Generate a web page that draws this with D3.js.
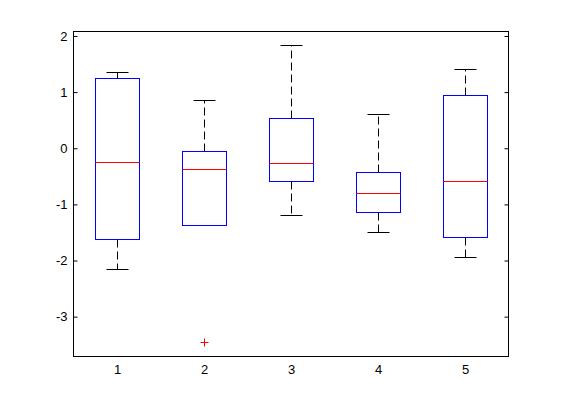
<!DOCTYPE html>
<html>
<head>
<meta charset="utf-8">
<script src="https://cdn.jsdelivr.net/npm/d3@7"></script>
<style>
  html, body { margin: 0; padding: 0; background: #fff; }
  svg { display: block; }
  text { font-family: Arial, "Liberation Sans", Helvetica, sans-serif; font-size: 13px; fill: #000; }
</style>
</head>
<body>
<svg id="chart" width="561" height="420"></svg>
<script>
const categories = [1, 2, 3, 4, 5];
const whiskerLow  = [-2.16, -1.375, -1.196, -1.50, -1.946];
const q1          = [-1.625, -1.375, -0.589, -1.143, -1.589];
const median      = [-0.25, -0.375, -0.268, -0.798, -0.589];
const q3          = [1.25, -0.054, 0.536, -0.429, 0.946];
const whiskerHigh = [1.357, 0.857, 1.839, 0.607, 1.41];
const outliers    = [[], [-3.45], [], [], []];
const yTicks = [-3, -2, -1, 0, 1, 2];
const yTickLabels = ["-3", "-2", "-1", "0", "1", "2"];

(function () {
const svg = d3.select("#chart");
const mLeft = 73.5, mRight = 508.5, mTop = 31.5, mBottom = 356.5;

const x = d3.scaleLinear().domain([0.5, 5.5]).range([mLeft, mRight]);
const y = d3.scaleLinear().domain([-3.71, 2.08]).range([mBottom, mTop]);

const px = v => Math.round(v) + 0.5;

svg.append("rect")
  .attr("x", mLeft).attr("y", mTop)
  .attr("width", mRight - mLeft).attr("height", mBottom - mTop)
  .attr("fill", "none").attr("stroke", "#000").attr("stroke-width", 1);

const yAxisL = d3.axisLeft(y).tickValues(yTicks).tickSize(-4).tickPadding(6)
  .tickFormat((d, i) => yTickLabels[i]);
const gL = svg.append("g").attr("transform", `translate(${mLeft},0)`).call(yAxisL);
gL.select(".domain").remove();
gL.selectAll(".tick line").attr("stroke", "#000");
gL.selectAll(".tick text").attr("font-size", 13).attr("font-family", "Arial, 'Liberation Sans', sans-serif").attr("x", -6);

const yAxisR = d3.axisRight(y).tickValues(yTicks).tickSize(-4).tickFormat("");
const gR = svg.append("g").attr("transform", `translate(${mRight},0)`).call(yAxisR);
gR.select(".domain").remove();
gR.selectAll(".tick line").attr("stroke", "#000");

const xAxis = d3.axisBottom(x).tickValues(categories).tickSize(0).tickPadding(8).tickFormat(d => String(d));
const gB = svg.append("g").attr("transform", `translate(0,${mBottom})`).call(xAxis);
gB.select(".domain").remove();
gB.selectAll(".tick text").attr("font-size", 13).attr("font-family", "Arial, 'Liberation Sans', sans-serif");

const boxW = 0.5, capW = 0.25;
const data = categories.map((c, i) => ({
  c, lo: whiskerLow[i], q1: q1[i], med: median[i], q3: q3[i], hi: whiskerHigh[i], out: outliers[i]
}));

const g = svg.append("g");
data.forEach(d => {
  const cx = px(x(d.c));
  g.append("line").attr("x1", cx).attr("x2", cx).attr("y1", px(y(d.q3))).attr("y2", px(y(d.hi)))
    .attr("stroke", "#000").attr("stroke-dasharray", "8,4");
  g.append("line").attr("x1", cx).attr("x2", cx).attr("y1", px(y(d.q1))).attr("y2", px(y(d.lo)))
    .attr("stroke", "#000").attr("stroke-dasharray", "8,4");
  [d.hi, d.lo].forEach(v => {
    g.append("line")
      .attr("x1", px(x(d.c - capW / 2))).attr("x2", px(x(d.c + capW / 2)))
      .attr("y1", px(y(v))).attr("y2", px(y(v)))
      .attr("stroke", "#000");
  });
  const bx1 = px(x(d.c - boxW / 2)), bx2 = px(x(d.c + boxW / 2));
  const by1 = px(y(d.q3)), by2 = px(y(d.q1));
  g.append("rect").attr("x", bx1).attr("y", by1).attr("width", bx2 - bx1).attr("height", by2 - by1)
    .attr("fill", "none").attr("stroke", "#0000ff");
  g.append("line").attr("x1", bx1).attr("x2", bx2).attr("y1", px(y(d.med))).attr("y2", px(y(d.med)))
    .attr("stroke", "#ff0000");
  d.out.forEach(v => {
    const oy = px(y(v));
    g.append("line").attr("x1", cx - 4).attr("x2", cx + 4).attr("y1", oy).attr("y2", oy).attr("stroke", "#ff0000");
    g.append("line").attr("x1", cx).attr("x2", cx).attr("y1", oy - 4).attr("y2", oy + 4).attr("stroke", "#ff0000");
  });
});
})();
</script>
</body>
</html>
